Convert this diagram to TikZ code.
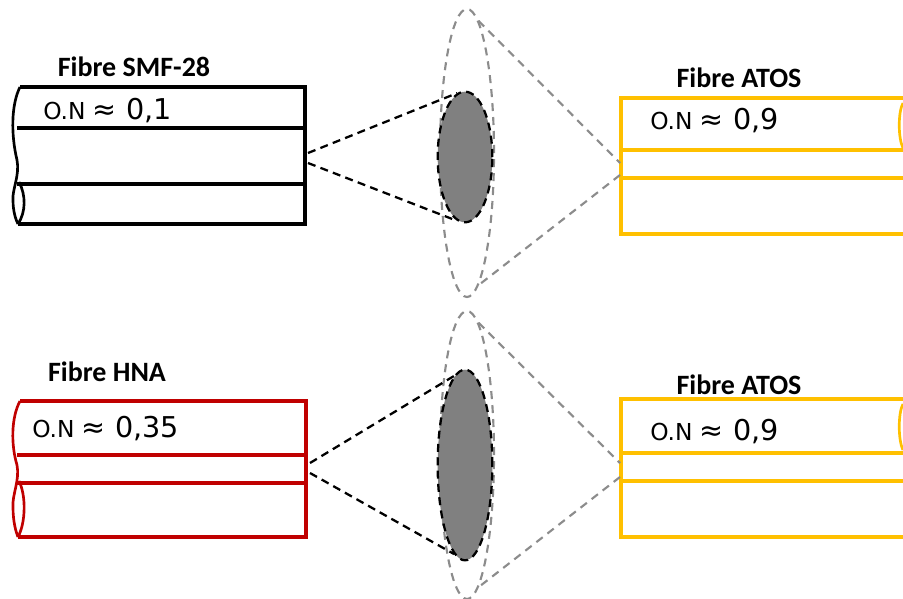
\documentclass[tikz,border=0pt]{standalone}
\usepackage{fontspec}
\setmainfont{Carlito}
\newfontfamily\onfont{DejaVu Sans}
\usetikzlibrary{shapes.geometric}
\definecolor{hnared}{RGB}{192,0,0}
\definecolor{atosyellow}{RGB}{255,192,0}
\definecolor{lensgray}{RGB}{128,128,128}
\definecolor{raygray}{RGB}{140,140,140}
\tikzset{
	fibreline/.style={line width=2.6pt, line join=miter},
	coreline/.style={line width=2.5pt},
	breakline/.style={line width=2pt},
	blackray/.style={dash pattern=on 6pt off 4pt, line width=1.7pt},
	grayray/.style={raygray, dash pattern=on 6pt off 4.5pt, line width=1.6pt},
	fibretitle/.style={font=\bfseries\fontsize{21}{25}\selectfont},
	ontext/.style={anchor=base west, inner sep=0pt},
	innerlens/.style={ellipse, draw=black, fill=lensgray, blackray, inner sep=0pt},
	outerlens/.style={ellipse, draw=raygray, grayray, inner sep=0pt, minimum width=40.5pt, minimum height=216pt},
}
\newcommand{\onvalue}[1]{\onfont\fontsize{17.5}{21}\selectfont O.N\hspace{5.5pt}\fontsize{21.5}{25}\selectfont ≈\hspace{7pt}#1}
\begin{document}
\begin{tikzpicture}[x=0.75pt,y=-0.75pt]
	\useasboundingbox (0,0) rectangle (903,599);

	% top: SMF-28 fibre
	\draw[fibreline] (20,87)--(305,87)--(305,224)--(18,224);
	\foreach \y in {128, 184} \draw[coreline] (17,\y)--(305,\y);
	\draw[breakline] (20,87) .. controls (11,105) and (11,135) .. (17,160)
		.. controls (20,175) and (12,190) .. (13,200) .. controls (13,212) and (16,220) .. (18,224);
	\draw[breakline] (19,182) .. controls (26,195) and (26,212) .. (18,224);
	\node[fibretitle] (smftitle) at (134,67) {Fibre SMF-28};
	\node[ontext] (smfon) at (43,120) {\onvalue{0,1}};
	\coordinate (smfa) at (308,153);
	\coordinate (smfb) at (308,163);

	% top: ATOS fibre
	\draw[fibreline, atosyellow] (903,98)--(621,98)--(621,234)--(903,234);
	\foreach \y in {150, 178} \draw[coreline, atosyellow] (621,\y)--(903,\y);
	\draw[breakline, atosyellow] (903,103) .. controls (898,112) and (898,138) .. (903,148);
	\node[fibretitle] (atostitlea) at (739,78) {Fibre ATOS};
	\node[ontext] (atosona) at (650,130) {\onvalue{0,9}};
	\coordinate (atosa) at (620,163);
	\coordinate (atosb) at (620,175);

	% top: lenses
	\node[outerlens] (outera) at (467,153) {};
	\node[innerlens, minimum width=41pt, minimum height=98pt] (lensa) at (465,157) {};
	\draw[blackray] (smfa) -- (lensa.97);
	\draw[blackray] (smfb) -- (lensa.-97);
	\draw[grayray] (outera.85) -- (atosa);
	\draw[grayray] (atosb) -- (outera.-85);

	% bottom: HNA fibre
	\draw[fibreline, hnared] (20,401)--(306,401)--(306,537)--(18,537);
	\foreach \y in {455, 483} \draw[coreline, hnared] (17,\y)--(306,\y);
	\draw[breakline, hnared] (20,401) .. controls (11,418) and (11,445) .. (17,465)
		.. controls (20,480) and (12,495) .. (13,507) .. controls (13,522) and (16,532) .. (18,537);
	\draw[breakline, hnared] (19,481) .. controls (26,495) and (26,522) .. (18,537);
	\node[fibretitle] (hnatitle) at (107,372) {Fibre HNA};
	\node[ontext] (hnaon) at (32,437) {\onvalue{0,35}};
	\coordinate (hnaa) at (310,463);
	\coordinate (hnab) at (310,473);

	% bottom: ATOS fibre
	\draw[fibreline, atosyellow] (903,399)--(621,399)--(621,537)--(903,537);
	\foreach \y in {453, 481} \draw[coreline, atosyellow] (621,\y)--(903,\y);
	\draw[breakline, atosyellow] (903,404) .. controls (898,413) and (898,440) .. (903,450);
	\node[fibretitle] (atostitleb) at (739,385) {Fibre ATOS};
	\node[ontext] (atosonb) at (650,440) {\onvalue{0,9}};
	\coordinate (atosc) at (620,463);
	\coordinate (atosd) at (620,477);

	% bottom: lenses
	\node[outerlens] (outerb) at (467,455) {};
	\node[innerlens, minimum width=41pt, minimum height=143pt] (lensb) at (465,465) {};
	\draw[blackray] (hnaa) -- (lensb.97);
	\draw[blackray] (hnab) -- (lensb.-97);
	\draw[grayray] (outerb.85) -- (atosc);
	\draw[grayray] (atosd) -- (outerb.-85);
\end{tikzpicture}
\end{document}
